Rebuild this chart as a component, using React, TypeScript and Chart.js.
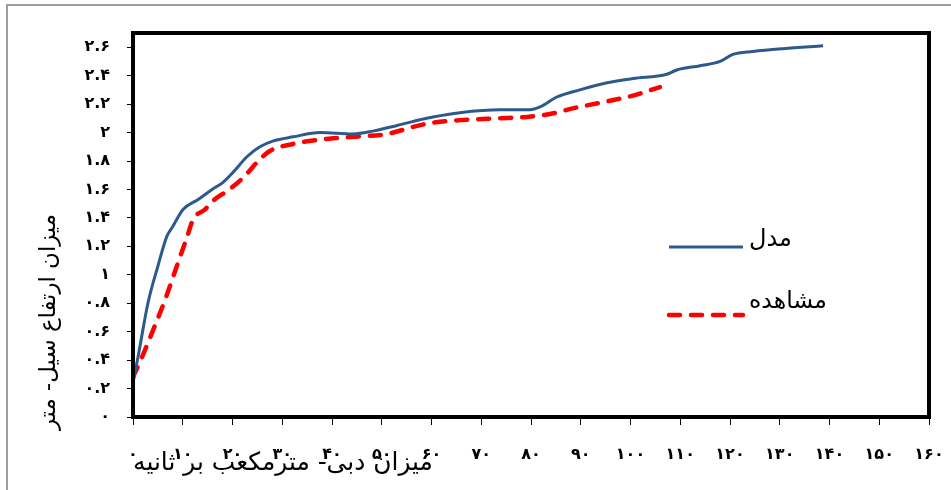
import React, { useEffect, useRef } from 'react';
import { Chart, registerables } from 'chart.js';

Chart.register(...registerables);

// ---- data ----
const modelX = [0, 1, 3, 5, 6.8, 8, 10.1, 13.1, 15.9, 18.1, 20.1, 22.9, 25.5, 28.1, 32.2, 37.6, 44.2, 48.2, 53.1, 57.7, 60.3, 65.7, 73.8, 79.8, 81.8, 85.2, 89.8, 95.3, 100.5, 107.3, 109.3, 114, 118, 120.6, 124.6, 130.7, 138.7];
const modelY = [0.24, 0.42, 0.8, 1.06, 1.27, 1.34, 1.46, 1.53, 1.6, 1.65, 1.72, 1.83, 1.9, 1.94, 1.97, 2.0, 1.99, 2.01, 2.05, 2.09, 2.11, 2.14, 2.16, 2.16, 2.18, 2.25, 2.3, 2.35, 2.38, 2.41, 2.44, 2.47, 2.5, 2.55, 2.57, 2.59, 2.61];
const obsX = [0, 1.8, 3.8, 6.4, 8.8, 10.9, 12.1, 14.5, 16.1, 18.5, 20.1, 22.9, 24.9, 27.5, 32.2, 37.6, 44.2, 51.1, 56.3, 60.3, 67.1, 73.8, 79.2, 83.8, 88.4, 93.9, 100.5, 105.9];
const obsY = [0.28, 0.42, 0.59, 0.82, 1.06, 1.27, 1.39, 1.46, 1.52, 1.58, 1.62, 1.71, 1.79, 1.87, 1.92, 1.95, 1.97, 1.99, 2.04, 2.07, 2.09, 2.1, 2.11, 2.13, 2.17, 2.21, 2.26, 2.32];
const seriesNames = ['مدل', 'مشاهده'];
const xTitle = 'میزان دبی- مترمکعب بر ثانیه';
const yTitle = 'میزان ارتفاع سیل- متر';
const xMin = 0, xMax = 160, xStep = 10;
const yMin = 0, yMax = 2.7, yStep = 0.2;

const faDigits = ['۰', '۱', '۲', '۳', '۴', '۵', '۶', '۷', '۸', '۹'];
const toFa = (v: number) => {
  const s = String(Math.round(v * 10) / 10);
  return s.replace(/[0-9]/g, (d) => faDigits[Number(d)]);
};

const FONT = '"DejaVu Sans", sans-serif';

function fitSize(ctx: CanvasRenderingContext2D, text: string, target: number, weight: string) {
  ctx.font = `${weight} 20px ${FONT}`;
  const w = ctx.measureText(text).width;
  return (20 * target) / w;
}

const decorPlugin = {
  id: 'decor',
  afterDatasetsDraw(chart: any) {
    const ctx: CanvasRenderingContext2D = chart.ctx;
    const xs = chart.scales.x;
    const ys = chart.scales.y;
    const l = xs.getPixelForValue(xMin);
    const r = xs.getPixelForValue(xMax);
    const t = ys.getPixelForValue(yMax);
    const b = ys.getPixelForValue(yMin);
    ctx.save();
    // plot box
    ctx.strokeStyle = '#000';
    ctx.lineWidth = 4;
    ctx.strokeRect(l, t, r - l, b - t);
    // outer frame
    ctx.strokeStyle = '#7f7f7f';
    ctx.lineWidth = 1.5;
    ctx.beginPath();
    ctx.moveTo(7, chart.height);
    ctx.lineTo(7, 5);
    ctx.lineTo(chart.width, 5);
    ctx.stroke();

    ctx.fillStyle = '#000';
    ctx.direction = 'rtl';
    ctx.textBaseline = 'middle';
    ctx.textAlign = 'center';
    // x title
    let s = fitSize(ctx, xTitle, 300, 'normal');
    ctx.font = `normal ${s}px ${FONT}`;
    ctx.fillText(xTitle, 283, 464);
    // y title
    s = fitSize(ctx, yTitle, 216, 'normal');
    ctx.font = `normal ${s}px ${FONT}`;
    ctx.save();
    ctx.translate(49, 322);
    ctx.rotate(-Math.PI / 2);
    ctx.fillText(yTitle, 0, 0);
    ctx.restore();

    // legend
    const ds = chart.data.datasets;
    const rows = [
      { ly: 247, ty: 240, tw: 43 },
      { ly: 315, ty: 302, tw: 78 },
    ];
    ds.forEach((d: any, i: number) => {
      const row = rows[i];
      ctx.save();
      ctx.strokeStyle = d.borderColor;
      ctx.lineWidth = d.borderWidth;
      ctx.lineCap = d.borderCapStyle || 'butt';
      ctx.setLineDash(d.borderDash || []);
      ctx.beginPath();
      ctx.moveTo(669, row.ly);
      ctx.lineTo(743, row.ly);
      ctx.stroke();
      ctx.restore();
      const fs = fitSize(ctx, d.label, row.tw, 'normal');
      ctx.font = `normal ${fs}px ${FONT}`;
      ctx.textAlign = 'left';
      ctx.direction = 'ltr';
      ctx.fillText(d.label, 749, row.ty);
    });
    ctx.restore();
  },
};

export default function App() {
  const ref = useRef<HTMLCanvasElement>(null);
  useEffect(() => {
    if (!ref.current) return;
    const chart = new Chart(ref.current, {
      type: 'line',
      data: {
        datasets: [
          {
            label: seriesNames[0],
            data: modelX.map((x, i) => ({ x, y: modelY[i] })),
            borderColor: '#2c5a8c',
            borderWidth: 3,
            pointRadius: 0,
            cubicInterpolationMode: 'monotone',
            fill: false,
          },
          {
            label: seriesNames[1],
            data: obsX.map((x, i) => ({ x, y: obsY[i] })),
            borderColor: '#ff0000',
            borderWidth: 4.5,
            borderDash: [11, 11],
            borderCapStyle: 'round',
            pointRadius: 0,
            cubicInterpolationMode: 'monotone',
            fill: false,
          },
        ],
      },
      options: {
        animation: false,
        responsive: false,
        devicePixelRatio: 1,
        layout: { padding: { left: 0, top: 33, right: 22, bottom: 0 } },
        plugins: { legend: { display: false }, tooltip: { enabled: false } },
        scales: {
          x: {
            type: 'linear',
            min: xMin,
            max: xMax,
            afterFit: (sc: any) => { sc.height = 73; sc.paddingLeft = 0; sc.paddingRight = 0; },
            grid: { drawOnChartArea: false, drawTicks: true, tickLength: 8, color: '#000', lineWidth: 1 },
            border: { display: false },
            ticks: {
              stepSize: xStep,
              padding: 20,
              maxRotation: 0,
              autoSkip: false,
              color: '#000',
              font: { family: FONT, size: 16, weight: 'bold' },
              callback: (v: any) => toFa(Number(v)),
            },
          },
          y: {
            type: 'linear',
            min: yMin,
            max: yMax,
            afterFit: (sc: any) => { sc.width = 133; sc.paddingTop = 0; sc.paddingBottom = 0; },
            grid: { drawOnChartArea: false, drawTicks: true, tickLength: 6, color: '#000', lineWidth: 1 },
            border: { display: false },
            ticks: {
              stepSize: yStep,
              includeBounds: false,
              padding: 17,
              autoSkip: false,
              color: '#000',
              font: { family: FONT, size: 16, weight: 'bold' },
              callback: (v: any) => toFa(Number(v)),
            },
          },
        },
      } as any,
      plugins: [decorPlugin],
    });
    return () => chart.destroy();
  }, []);
  return (
    <div style={{ position: 'absolute', left: 0, top: 0, width: 951, height: 490, background: '#fff' }}>
      <canvas ref={ref} width={951} height={490} style={{ display: 'block', width: 951, height: 490 }} />
    </div>
  );
}
